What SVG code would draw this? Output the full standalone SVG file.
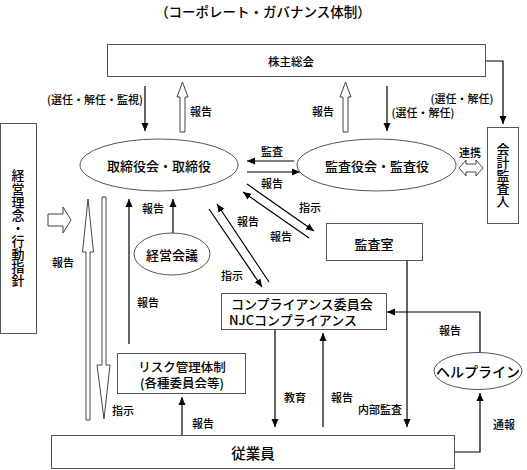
<svg xmlns="http://www.w3.org/2000/svg" width="527" height="470" viewBox="0 0 527 470">
<style>
text{font-family:"Noto Sans CJK JP","Liberation Sans",sans-serif;fill:#000;dominant-baseline:central;text-anchor:middle;font-weight:500}
.n{font-size:13px}
.n2{font-size:12.5px}
.l{font-size:11px}
.v{font-size:13px;writing-mode:vertical-rl;dominant-baseline:auto;letter-spacing:0.1px}
.box{fill:#fff;stroke:#555;stroke-width:1}
.ln{fill:none;stroke:#000;stroke-width:1.2}
.ha{fill:#fff;stroke:#444;stroke-width:1}
</style>
<defs>
<marker id="ah" viewBox="0 0 8 8" refX="8" refY="4" markerWidth="8" markerHeight="8" markerUnits="userSpaceOnUse" orient="auto">
<path d="M0,0.5 L8,4 L0,7.5 z" fill="#000"/>
</marker>
</defs>
<rect width="527" height="470" fill="#fff"/>
<text x="263" y="11" style="font-size:13.5px">（コーポレート・ガバナンス体制）</text>

<g id="connectors">
<path class="ln" d="M485,61 H503 V124" marker-end="url(#ah)"/>
<path class="ln" d="M145,86 V131" marker-end="url(#ah)"/>
<path class="ln" d="M387,86 V131" marker-end="url(#ah)"/>
<polygon class="ha" points="180,132 180,97 177,97 182.5,82 188,97 185,97 185,132"/>
<polygon class="ha" points="343,132 343,97 340,97 345.5,82 351,97 348,97 348,132"/>
<path class="ln" d="M294,161 H247" marker-end="url(#ah)"/>
<path class="ln" d="M247,172 H300" marker-end="url(#ah)"/>
<path class="ln" d="M247,184 L314,231" marker-end="url(#ah)"/>
<path class="ln" d="M309,238 L243,192" marker-end="url(#ah)"/>
<path class="ln" d="M209,209 L262,287" marker-end="url(#ah)"/>
<path class="ln" d="M269,282 L217,204" marker-end="url(#ah)"/>
<path class="ln" d="M407,261 V427" marker-end="url(#ah)"/>
<path class="ln" d="M480,352 V312 H387" marker-end="url(#ah)"/>
<path class="ln" d="M455,452 H480 V393" marker-end="url(#ah)"/>
<path class="ln" d="M275,330 V427" marker-end="url(#ah)"/>
<path class="ln" d="M323,427 V333" marker-end="url(#ah)"/>
<path class="ln" d="M182,435 V397" marker-end="url(#ah)"/>
<path class="ln" d="M129,344 V199" marker-end="url(#ah)"/>
<path class="ln" d="M173,233 V199" marker-end="url(#ah)"/>
<polygon class="ha" points="459,168 466,160 466,164 476,164 476,160 483,168 476,176 476,172 466,172 466,176"/>
<polygon class="ha" points="48,214 63,214 63,207 71,220 63,233 63,226 48,226"/>
<polygon class="ha" points="86,420 86,252 82.5,252 88,199 93.5,252 90,252 90,420"/>
<polygon class="ha" points="102,197 106,197 106,365 110,365 104,419 97,365 102,365"/>
<text class="l" x="95" y="99">(選任・解任・監視)</text>
<text class="l" x="201" y="111">報告</text>
<text class="l" x="323" y="111">報告</text>
<text class="l" x="423" y="112">(選任・解任)</text>
<text class="l" x="462" y="98">(選任・解任)</text>
<text class="l" x="272" y="151">監査</text>
<text class="l" x="272" y="183">報告</text>
<text class="l" x="310" y="207">指示</text>
<text class="l" x="281" y="236">報告</text>
<text class="l" x="248" y="221">報告</text>
<text class="l" x="232" y="275">指示</text>
<text class="l" x="470" y="152">連携</text>
<text class="l" x="153" y="208">報告</text>
<text class="l" x="148" y="302">報告</text>
<text class="l" x="63" y="262">報告</text>
<text class="l" x="123" y="410">指示</text>
<text class="l" x="203" y="423">報告</text>
<text class="l" x="295" y="397">教育</text>
<text class="l" x="342" y="397">報告</text>
<text class="l" x="380" y="409">内部監査</text>
<text class="l" x="450" y="330">報告</text>
<text class="l" x="504" y="424">通報</text>
</g>

<g id="kabunushi">
<rect class="box" x="107.5" y="44.5" width="378" height="32"/>
<text x="291" y="61" style="font-size:11.5px">株主総会</text>
</g>
<g id="rinen">
<rect class="box" x="0.5" y="123.5" width="36" height="210"/>
<text class="v" x="18" y="228">経営理念・行動指針</text>
</g>
<g id="torishimariyaku">
<ellipse class="box" cx="159" cy="165" rx="79" ry="26"/>
<text class="n" x="159" y="165">取締役会・取締役</text>
</g>
<g id="kansayaku">
<ellipse class="box" cx="376.5" cy="165" rx="79.5" ry="26"/>
<text class="n" x="377" y="165">監査役会・監査役</text>
</g>
<g id="kaikei">
<rect class="box" x="487.5" y="127.5" width="31" height="96"/>
<text class="v" x="503" y="175">会計監査人</text>
</g>
<g id="keieikaigi">
<ellipse class="box" cx="172" cy="254" rx="38" ry="21"/>
<text class="n" x="172" y="254">経営会議</text>
</g>
<g id="kansashitsu">
<rect class="box" x="326.5" y="223.5" width="96" height="37"/>
<text class="n" x="374" y="243">監査室</text>
</g>
<g id="compliance">
<rect class="box" x="221.5" y="293.5" width="165" height="36"/>
<text class="n2" x="231" y="303.5" style="text-anchor:start;font-size:13px">コンプライアンス委員会</text>
<text class="n2" x="229" y="319.5" style="text-anchor:start;font-size:13px">NJCコンプライアンス</text>
</g>
<g id="risk">
<rect class="box" x="117.5" y="353.5" width="128" height="40"/>
<text class="n2" x="182" y="366">リスク管理体制</text>
<text class="n2" x="182" y="382">(各種委員会等)</text>
</g>
<g id="helpline">
<ellipse class="box" cx="478" cy="371" rx="44" ry="18.5"/>
<text x="478" y="371" style="font-size:14px">ヘルプライン</text>
</g>
<g id="jugyoin">
<rect class="box" x="51.5" y="435.5" width="403" height="33"/>
<text x="253" y="452" style="font-size:14.5px">従業員</text>
</g>
</svg>
